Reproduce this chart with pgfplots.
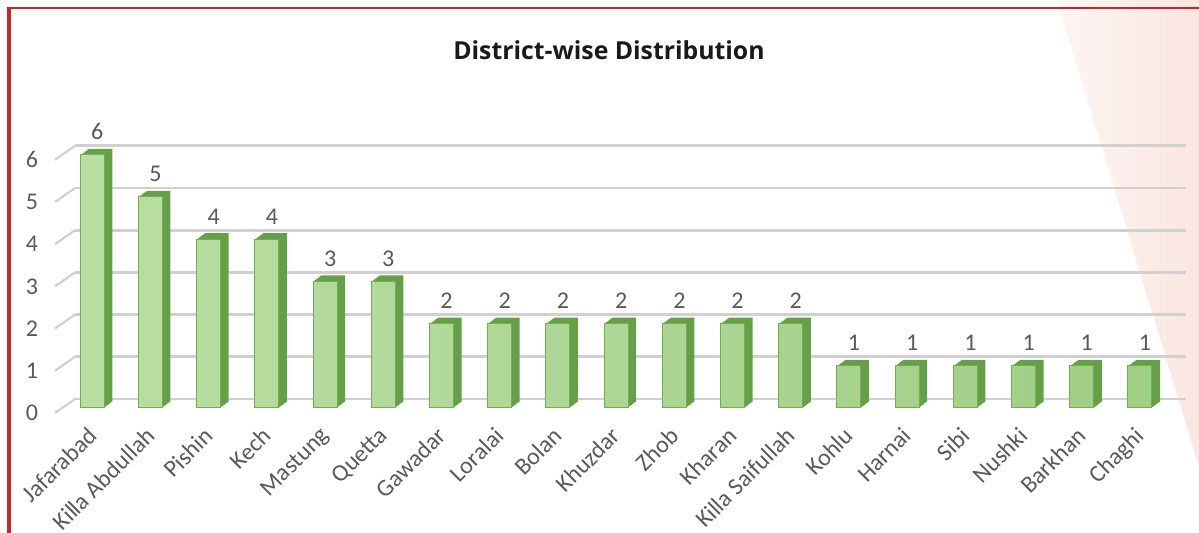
\documentclass[border=0pt]{standalone}
\usepackage{fontspec}
\setmainfont{Carlito}
\newfontfamily\titlefont{Open Sans}
\usepackage{pgfplots}
\usepackage{pgfplotstable}
\pgfplotsset{compat=1.18}

\definecolor{frontgreen}{HTML}{A0CE86}
\definecolor{frontlight}{HTML}{B9DEA2}
\definecolor{edgegreen}{HTML}{72AD4E}
\definecolor{sidegreen}{HTML}{65A048}
\definecolor{labelgray}{HTML}{595959}
\definecolor{gridgray}{HTML}{D0D0D0}
\definecolor{borderred}{HTML}{C1272D}
\definecolor{pinkA}{HTML}{FDF5F3}
\definecolor{pinkB}{HTML}{FBE6E1}

% district counts, in the order they are shown
\pgfplotstableread{
idx count
0 6
1 5
2 4
3 4
4 3
5 3
6 2
7 2
8 2
9 2
10 2
11 2
12 2
13 1
14 1
15 1
16 1
17 1
18 1
}\districts

\begin{document}
\begin{tikzpicture}
\useasboundingbox (0,0) rectangle (599.5pt,266.5pt);
% pale pink band at the right edge
\shade[left color=pinkA, right color=pinkB] (528.5pt,266.5pt) -- (599.5pt,266.5pt) -- (599.5pt,33pt) -- cycle;
% red frame
\draw[borderred, line width=1.3pt] (4.5pt,262.5pt) -- (599.5pt,262.5pt);
\draw[borderred, line width=1.8pt] (4.5pt,0pt) -- (4.5pt,263.1pt);

\node[font=\titlefont\bfseries\fontsize{12.4}{14}\selectfont, text=black!90] at (304.5pt,241.5pt) {District-wise Distribution};

\begin{axis}[
    at={(27.5pt,62.5pt)}, anchor=south west,
    scale only axis,
    width=555.3pt, height=126.6pt,
    xmin=-0.64, xmax=18.44,
    ymin=0, ymax=6,
    clip=false,
    axis line style={draw=none},
    major tick length=0pt,
    ytick={0,1,2,3,4,5,6},
    xtick={0,...,18},
    xticklabels={Jafarabad,Killa Abdullah,Pishin,Kech,Mastung,Quetta,Gawadar,Loralai,Bolan,Khuzdar,Zhob,Kharan,Killa Saifullah,Kohlu,Harnai,Sibi,Nushki,Barkhan,Chaghi},
    xticklabel style={xshift=-3pt, yshift=-4pt, rotate=45, anchor=north east, font=\fontsize{12}{14}\selectfont, text=labelgray},
    yticklabel style={font=\fontsize{12}{14}\selectfont, text=labelgray, xshift=-5pt, yshift=-2.5pt},
    /pgf/number format/assume math mode=true,
]
% back wall gridlines and the short floor diagonals
\pgfplotsinvokeforeach{0,...,6}{
  \draw[gridgray, line width=1.4pt] ([xshift=10pt,yshift=4.5pt]axis cs:-0.64,#1) -- ([xshift=10pt,yshift=4.5pt]axis cs:18.44,#1);
  \draw[gridgray, line width=1.1pt] ([yshift=-2.5pt]axis cs:-0.64,#1) -- ([xshift=10pt,yshift=4.5pt]axis cs:-0.64,#1);
}
% depth of the bars: stacked shifted copies
\pgfplotsinvokeforeach{8,7,...,1}{
  \addplot[ybar, bar shift=0pt, bar width=12pt, fill=sidegreen, draw=none,
    xshift=#1*0.5pt, yshift=#1*0.375pt, forget plot] table[x=idx, y=count] {\districts};
}
% front faces with value labels
\addplot[ybar, bar shift=0pt, bar width=12pt, left color=frontlight, right color=frontgreen,
    draw=edgegreen, line width=0.5pt,
    nodes near coords,
    every node near coord/.append style={font=\fontsize{12}{14}\selectfont, text=labelgray, yshift=4pt, xshift=2.5pt}]
  table[x=idx, y=count] {\districts};
\end{axis}
\end{tikzpicture}
\end{document}
